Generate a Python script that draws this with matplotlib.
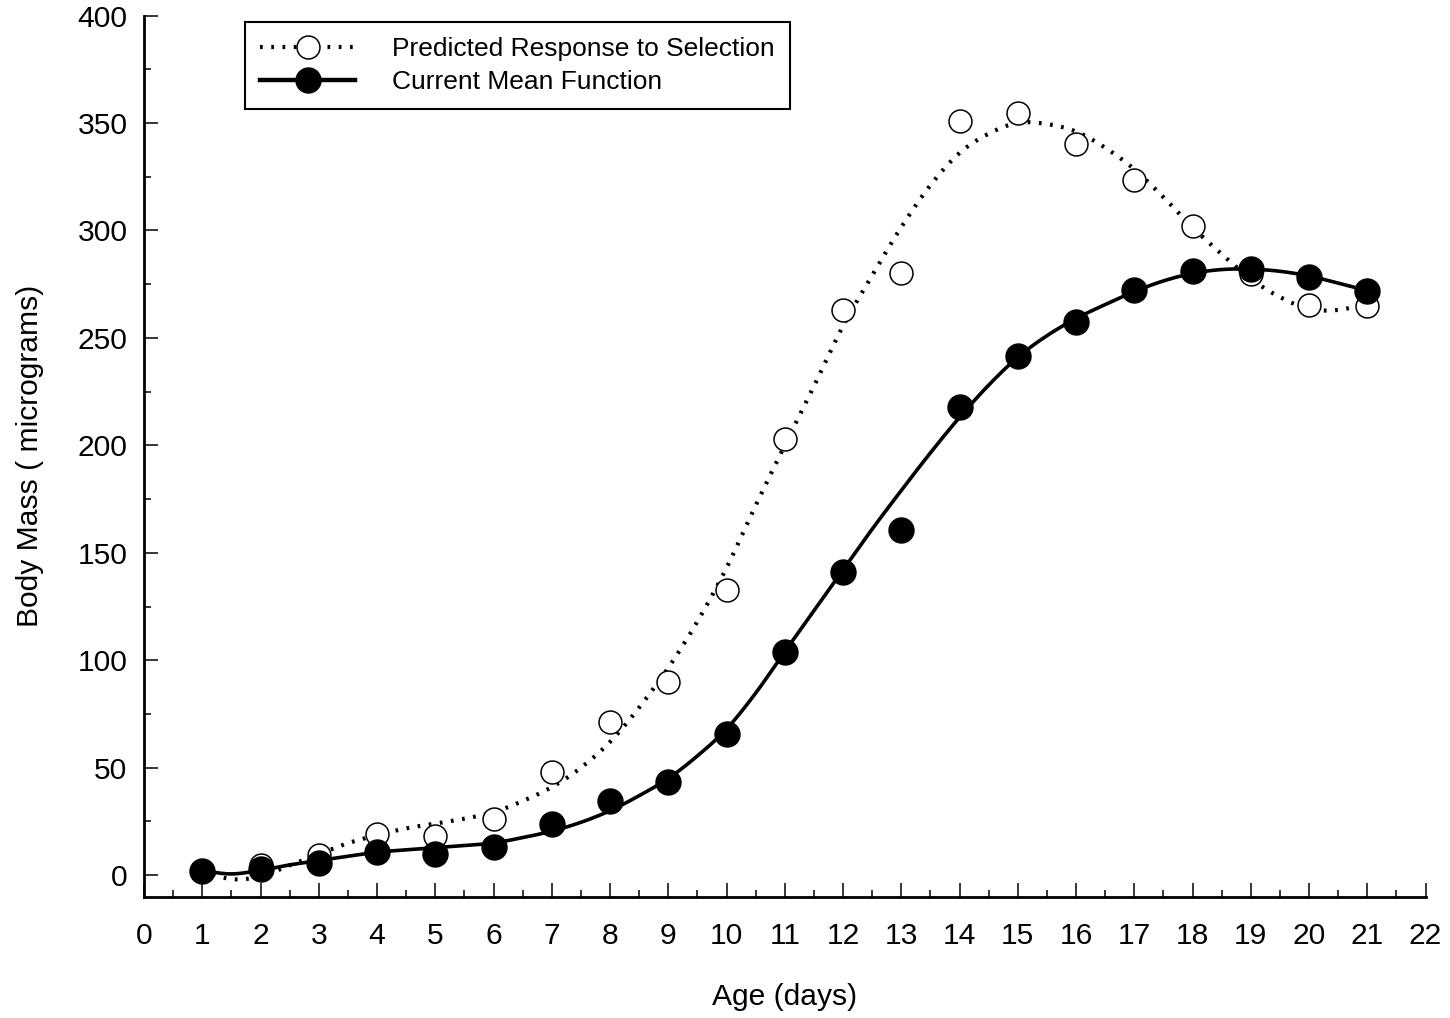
import numpy as np
import matplotlib
matplotlib.use("Agg")
import matplotlib.pyplot as plt
from matplotlib.lines import Line2D
from matplotlib.ticker import MultipleLocator

plt.rcParams['font.family'] = ['Liberation Sans', 'DejaVu Sans']

# observed means by age
days = list(range(1, 22))
predicted = [2.0, 4.8, 9.3, 19.0, 18.3, 26.3, 48.0, 71.1, 89.8, 132.6, 202.9,
             263.2, 280.4, 351.1, 354.8, 340.3, 323.6, 301.9, 279.7, 265.3, 265.0]
current = [2.1, 2.8, 5.9, 10.7, 9.9, 13.3, 23.8, 34.7, 43.4, 65.7, 104.0,
           141.2, 160.5, 217.9, 241.6, 257.2, 272.3, 281.3, 282.1, 278.5, 271.7]

# fitted functions, sampled every half day
fit_days = np.arange(1, 21.5, 0.5)
predicted_fit = [2.0, -1.8, -0.6, 4.6, 9.8, 14.9, 18.6, 21.8, 24.0, 26.3,
                 29.3, 34.5, 41.0, 50.0, 62.0, 78.0, 96.5, 118.0, 143.0, 172.0,
                 200.0, 227.5, 255.5, 279.0, 301.5, 321.0, 336.0, 345.0, 350.0,
                 349.5, 346.0, 338.5, 328.5, 315.5, 301.5, 289.0, 277.5, 269.0,
                 263.5, 263.0, 266.0]
current_fit = [2.1, 0.6, 2.3, 4.8, 6.8, 8.8, 10.7, 11.8, 12.8, 13.8,
               15.0, 17.5, 20.5, 24.6, 30.0, 37.0, 45.0, 55.5, 68.0, 84.7,
               104.0, 123.0, 142.0, 161.0, 179.0, 196.5, 213.0, 228.0, 241.0,
               251.0, 259.0, 265.5, 271.5, 276.5, 280.0, 281.8, 282.0, 281.0,
               278.8, 275.5, 272.0]


def catmull_rom(xk, yk, n=24):
    # smooth curve through the sampled points
    p = np.column_stack([xk, yk]).astype(float)
    p = np.vstack([2 * p[0] - p[1], p, 2 * p[-1] - p[-2]])
    t = np.linspace(0, 1, n, endpoint=False)[:, None]
    out = []
    for i in range(1, len(p) - 2):
        p0, p1, p2, p3 = p[i - 1], p[i], p[i + 1], p[i + 2]
        seg = 0.5 * (2 * p1 + (-p0 + p2) * t
                     + (2 * p0 - 5 * p1 + 4 * p2 - p3) * t ** 2
                     + (-p0 + 3 * p1 - 3 * p2 + p3) * t ** 3)
        out.append(seg)
    out.append(p[-2][None, :])
    out = np.vstack(out)
    return out[:, 0], out[:, 1]


fig = plt.figure(figsize=(14.5, 10.18), dpi=100)
ax = fig.add_axes([144 / 1450, 1 - 896.7 / 1018, 1281.5 / 1450, 881.2 / 1018])

dotted = (0, (0.65, 2.05))
px, py = catmull_rom(fit_days, predicted_fit)
cx, cy = catmull_rom(fit_days, current_fit)

ax.plot(px, py, color='black', lw=3.0, linestyle=dotted, dash_capstyle='butt', zorder=2)
ax.plot(days, predicted, linestyle='none', marker='o', ms=16.5, mfc='white',
        mec='black', mew=1.1, zorder=3)
ax.plot(cx, cy, color='black', lw=2.6, zorder=4)
ax.plot(days, current, linestyle='none', marker='o', ms=18, mfc='black',
        mec='black', zorder=5)

ax.set_xlim(0, 22)
ax.set_ylim(-10, 400)
ax.xaxis.set_major_locator(MultipleLocator(1))
ax.xaxis.set_minor_locator(MultipleLocator(0.5))
ax.yaxis.set_major_locator(MultipleLocator(50))
ax.yaxis.set_minor_locator(MultipleLocator(25))
ax.set_yticks(range(0, 401, 50))

for side in ['top', 'right']:
    ax.spines[side].set_visible(False)
for side in ['left', 'bottom']:
    ax.spines[side].set_linewidth(2.0)

ax.tick_params(which='both', direction='in', width=1.1, labelsize=21.6)
ax.tick_params(which='major', length=10)
ax.tick_params(which='minor', length=5)
ax.tick_params(axis='x', which='major', pad=18)
ax.tick_params(axis='y', which='major', pad=12)

ax.set_xlabel('Age (days)', fontsize=21.6)
ax.set_ylabel('Body Mass ( micrograms)', fontsize=21.6)
ax.xaxis.set_label_coords(0.5, -0.098)
ax.yaxis.set_label_coords(-0.078, 0.5)

handles = [
    Line2D([], [], color='black', lw=3.0, linestyle=dotted, dash_capstyle='butt',
           marker='o', ms=16.5, mfc='white', mec='black', mew=1.1),
    Line2D([], [], color='black', lw=3.2, marker='o', ms=18, mfc='black', mec='black'),
]
leg = ax.legend(handles, ['Predicted Response to Selection', 'Current Mean Function'],
                loc='upper left', bbox_to_anchor=(0.0788, 0.9926), borderaxespad=0,
                fontsize=19, fancybox=False, framealpha=1, edgecolor='black',
                handlelength=3.6, handletextpad=1.4, labelspacing=0.33,
                borderpad=0.58)
leg.get_frame().set_linewidth(1.5)

fig.savefig('out.png', dpi=100)
